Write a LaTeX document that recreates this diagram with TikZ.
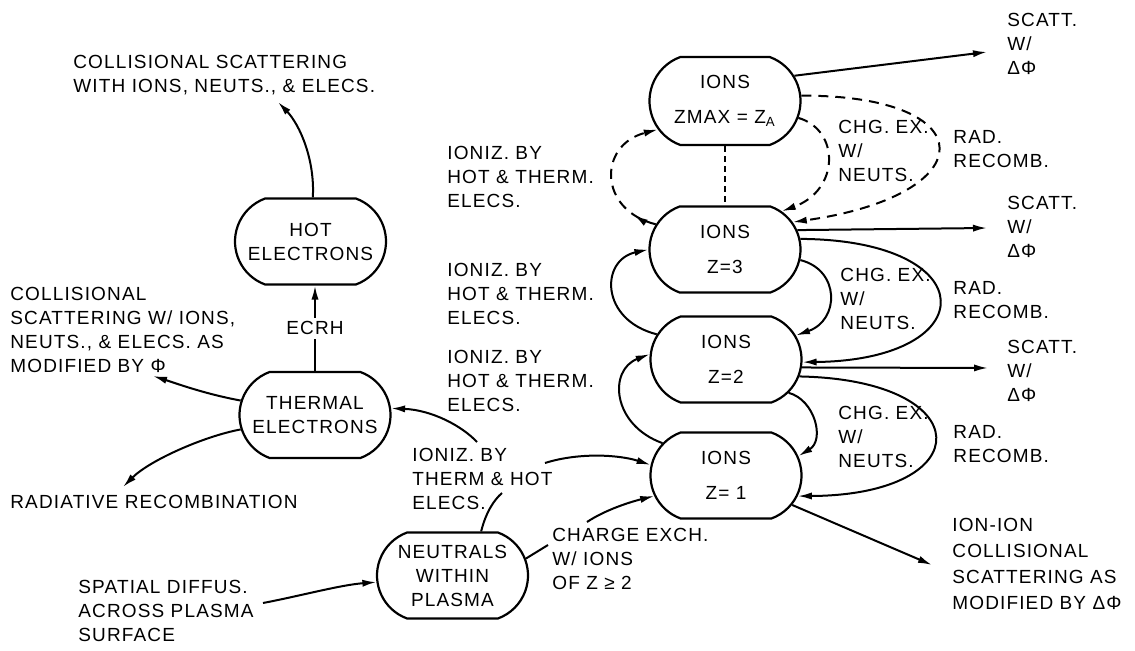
\documentclass[tikz,border=0pt]{standalone}
\usepackage{fontspec}
\setmainfont{Liberation Sans}[LetterSpace=6]
\usetikzlibrary{arrows.meta,shapes.misc,decorations.markings}
\tikzset{
  box/.style={draw, line width=1.1pt, rounded rectangle, rounded rectangle arc length=140,
    minimum width=77.5pt, minimum height=43pt, inner sep=1pt, align=center},
  lbl/.style={anchor=north west, inner sep=0pt, align=left},
  con/.style={line width=1pt},
  arr/.style={con, -{Latex[length=7pt,width=3.6pt]}},
  dsh/.style={dash pattern=on 5pt off 3.5pt},
  midarrow/.style={postaction={decorate, decoration={markings,
    mark=at position 0.17 with {\arrow{Latex[length=7pt,width=3.6pt]}}}}},
  every node/.style={font=\fontsize{9.5}{12}\selectfont},
}
\begin{document}
\begin{tikzpicture}[x=0.5pt,y=-0.5pt]
\useasboundingbox (0,0) rectangle (1135,651);

% boxes
\node[box] (hot) at (310.5,241.5) {HOT\\ELECTRONS};
\node[box] (thermal) at (315,415) {THERMAL\\ELECTRONS};
\node[box] (neutrals) at (452.5,575.5) {NEUTRALS\\WITHIN\\PLASMA};
\node[box, minimum height=44pt] (zmax) at (725,101) {IONS\\[5.5pt]ZMAX = Z\textsubscript{A}};
\node[box] (z3) at (725,249.5) {IONS\\[5.5pt]Z=3};
\node[box] (z2) at (726,359.5) {IONS\\[5.5pt]Z=2};
\node[box] (z1) at (726,475.5) {IONS\\[5.5pt]Z= 1};

% labels
\node[lbl] (l1) at (73,55) {COLLISIONAL SCATTERING\\WITH IONS, NEUTS., \& ELECS.};
\node[lbl] (l2) at (10,287) {COLLISIONAL\\SCATTERING W/ IONS,\\NEUTS., \& ELECS. AS\\MODIFIED BY Φ};
\node[lbl] (l3) at (10,495) {RADIATIVE RECOMBINATION};
\node[lbl] (l4) at (78,580) {SPATIAL DIFFUS.\\ACROSS PLASMA\\SURFACE};
\node[lbl] (l5) at (412,448) {IONIZ. BY\\THERM \& HOT\\ELECS.};
\node[lbl] (l6) at (552,528) {CHARGE EXCH.\\W/ IONS\\OF Z ≥ 2};
\node[lbl] (l7a) at (447,146) {IONIZ. BY\\HOT \& THERM.\\ELECS.};
\node[lbl] (l7b) at (447,263) {IONIZ. BY\\HOT \& THERM.\\ELECS.};
\node[lbl] (l7c) at (447,350) {IONIZ. BY\\HOT \& THERM.\\ELECS.};
\node[lbl] (l8a) at (838,120) {CHG. EX.\\W/\\NEUTS.};
\node[lbl] (l8b) at (840,268) {CHG. EX.\\W/\\NEUTS.};
\node[lbl] (l8c) at (838,406) {CHG. EX.\\W/\\NEUTS.};
\node[lbl] (l9a) at (953,130) {RAD.\\RECOMB.};
\node[lbl] (l9b) at (953,281) {RAD.\\RECOMB.};
\node[lbl] (l9c) at (953,425) {RAD.\\RECOMB.};
\node[lbl] (l10a) at (1007,13) {SCATT.\\W/\\ΔΦ};
\node[lbl] (l10b) at (1007,196) {SCATT.\\W/\\ΔΦ};
\node[lbl] (l10c) at (1007,340) {SCATT.\\W/\\ΔΦ};
\node[lbl, font=\fontsize{9.5}{13}\selectfont] (l11) at (952,518) {ION-ION\\COLLISIONAL\\SCATTERING AS\\MODIFIED BY ΔΦ};

% free ends
\coordinate (hotend) at (278,102);
\coordinate (coll2end) at (153,376);
\coordinate (radend) at (123,487);
\coordinate (ionlblbot) at (502,493);
\coordinate (ionlbltop) at (477,442);
\coordinate (ionlblright) at (545,463);
\coordinate (chlblleft) at (548,545);
\coordinate (chlblright) at (587,522);
\coordinate (spatend) at (263,603);
\coordinate (iiend) at (932,565);
\coordinate (s1) at (987,52);
\coordinate (s2) at (987,228);
\coordinate (s3) at (988,368);

% left part
\draw[arr] (hot.87) .. controls (315,160) and (300,125) .. (hotend);
\draw[arr] (thermal.north) -- node[fill=white, inner sep=2pt] (ecrh) {ECRH} (thermal.north |- hot.south);
\draw[arr] (thermal.169) .. controls (205,394) and (175,383) .. (coll2end);
\draw[arr] (thermal.191) .. controls (205,436) and (150,460) .. (radend);
\draw[con] (neutrals.57) .. controls (486,512) and (494,500) .. (ionlblbot);
\draw[arr] (ionlbltop) .. controls (462,426) and (432,410) .. (thermal.5);
\draw[arr] (ionlblright) .. controls (580,452) and (620,455) .. (z1.172);
\draw[con] (neutrals.13) -- (chlblleft);
\draw[arr] (chlblright) .. controls (605,510) and (630,502) .. (z1.196);
\draw[arr] (spatend) .. controls (300,596) and (340,585) .. (neutrals.185);

% ion chain, right side
\draw[arr] (zmax.20) -- (s1);
\draw[arr] (z3.15) -- (s2);
\draw[arr] (z2.-6) -- (s3);
\draw[arr] (z1.-24) -- (iiend);
\draw[arr,dsh] (zmax.4) .. controls (985,95) and (985,195) .. (z3.22);
\draw[arr,dsh] (zmax.-13) .. controls (840,130) and (840,190) .. (z3.34);
\draw[arr] (z3.8) .. controls (985,240) and (985,360) .. (z2.-2);
\draw[arr] (z3.-8) .. controls (840,270) and (840,320) .. (z2.19);
\draw[arr] (z2.-13) .. controls (980,380) and (980,495) .. (z1.-16);
\draw[arr] (z2.-28) .. controls (815,400) and (825,440) .. (z1.15);

% ion chain, left side
\draw[arr,dsh,midarrow] (z3.160) .. controls (598,210) and (598,145) .. (zmax.203);
\draw[con, dash pattern=on 3pt off 2pt] (zmax.south) -- (z3.north);
\draw[arr] (z2.160) .. controls (600,320) and (600,260) .. (z3.180);
\draw[arr] (z1.153) .. controls (612,425) and (608,370) .. (z2.176);
\end{tikzpicture}
\end{document}
